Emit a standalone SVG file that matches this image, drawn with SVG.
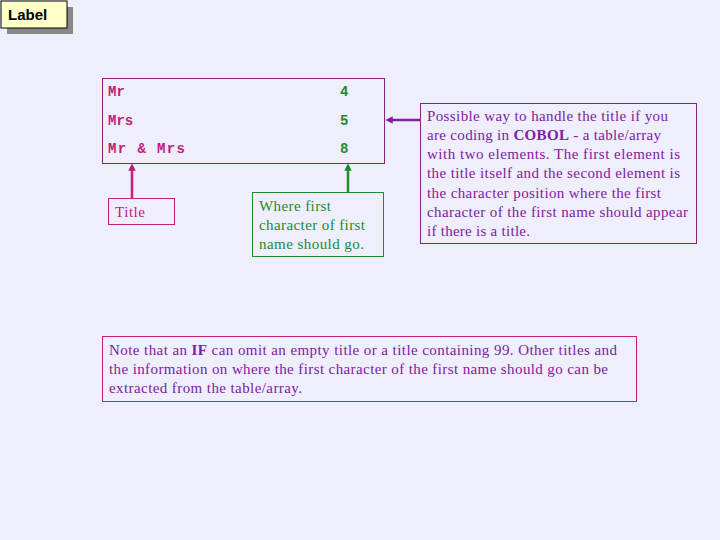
<svg xmlns="http://www.w3.org/2000/svg" width="720" height="540" viewBox="0 0 720 540">
<style>
.mono{font-family:"Liberation Mono",monospace;font-weight:bold;font-size:14px}
.ser{font-family:"Liberation Serif",serif;font-size:15px}
</style>
<defs>
<marker id="ap" viewBox="0 0 6 6" refX="3" refY="3" markerWidth="3" markerHeight="3" orient="auto"><path d="M0,0L6,3L0,6z" fill="#c0207a"/></marker>
<marker id="ag" viewBox="0 0 6 6" refX="3" refY="3" markerWidth="3" markerHeight="3" orient="auto"><path d="M0,0L6,3L0,6z" fill="#208a30"/></marker>
<marker id="av" viewBox="0 0 6 6" refX="3" refY="3" markerWidth="3" markerHeight="3" orient="auto"><path d="M0,0L6,3L0,6z" fill="#8020a0"/></marker>
</defs>
<rect width="720" height="540" fill="#eeeefc"/>
<g id="label">
<rect x="7" y="7" width="66" height="27" fill="#888"/>
<rect x="1" y="1" width="66" height="27" fill="#ffffc8" stroke="#000"/>
<text x="8" y="20" font-family="Liberation Sans,sans-serif" font-size="15" font-weight="bold">Label</text>
</g>
<g id="table">
<rect x="102.5" y="78.5" width="282" height="85" fill="none" stroke="#8a2080"/>
<text class="mono" fill="#c0207a" x="108" y="96">Mr</text>
<text class="mono" fill="#c0207a" x="108" y="125">Mrs</text>
<text class="mono" fill="#c0207a" x="108" y="153" textLength="77">Mr &amp; Mrs</text>
<text class="mono" fill="#208a30" x="340" y="96">4</text>
<text class="mono" fill="#208a30" x="340" y="125">5</text>
<text class="mono" fill="#208a30" x="340" y="153">8</text>
</g>
<g id="title">
<rect x="108.5" y="198.5" width="66" height="26" fill="none" stroke="#c0207a"/>
<text class="ser" fill="#c0207a" x="115" y="217" textLength="30">Title</text>
</g>
<g id="where">
<rect x="252.5" y="192.5" width="131" height="64" fill="none" stroke="#208a30"/>
<text class="ser" fill="#208a30"><tspan x="259" y="211" textLength="72">Where first</tspan><tspan x="259" y="230" textLength="106">character of first</tspan><tspan x="259" y="249" textLength="105">name should go.</tspan></text>
</g>
<g id="possible">
<rect x="420.5" y="103.5" width="276" height="140" fill="none" stroke="#8a2080"/>
<text class="ser" fill="#8020a0"><tspan x="427" y="121" textLength="241">Possible way to handle the title if you</tspan><tspan x="427" y="140" textLength="234">are coding in <tspan font-weight="bold">COBOL</tspan> - a table/array</tspan><tspan x="427" y="159" textLength="253">with two elements.  The first element is</tspan><tspan x="427" y="178" textLength="253">the title itself and the second element is</tspan><tspan x="427" y="198" textLength="234">the character position where the first</tspan><tspan x="427" y="217" textLength="261">character of the first name should appear</tspan><tspan x="427" y="236" textLength="103">if there is a title.</tspan></text>
</g>
<g id="note">
<rect x="102.5" y="336.5" width="534" height="65" fill="none" stroke="#c0207a"/>
<text class="ser" fill="#8020a0"><tspan x="109" y="355" textLength="508">Note that an <tspan font-weight="bold">IF</tspan> can omit an empty title or a title containing 99.  Other titles and</tspan><tspan x="109" y="374" textLength="499">the information on where the first character of the first name should go can be</tspan><tspan x="109" y="393" textLength="193">extracted from the table/array.</tspan></text>
</g>
<g id="connectors" stroke-width="2.5">
<line x1="132" y1="198" x2="132" y2="167" stroke="#c0207a" marker-end="url(#ap)"/>
<line x1="348" y1="192" x2="348" y2="167" stroke="#208a30" marker-end="url(#ag)"/>
<line x1="420" y1="120" x2="389" y2="120" stroke="#8020a0" marker-end="url(#av)"/>
</g>
</svg>
